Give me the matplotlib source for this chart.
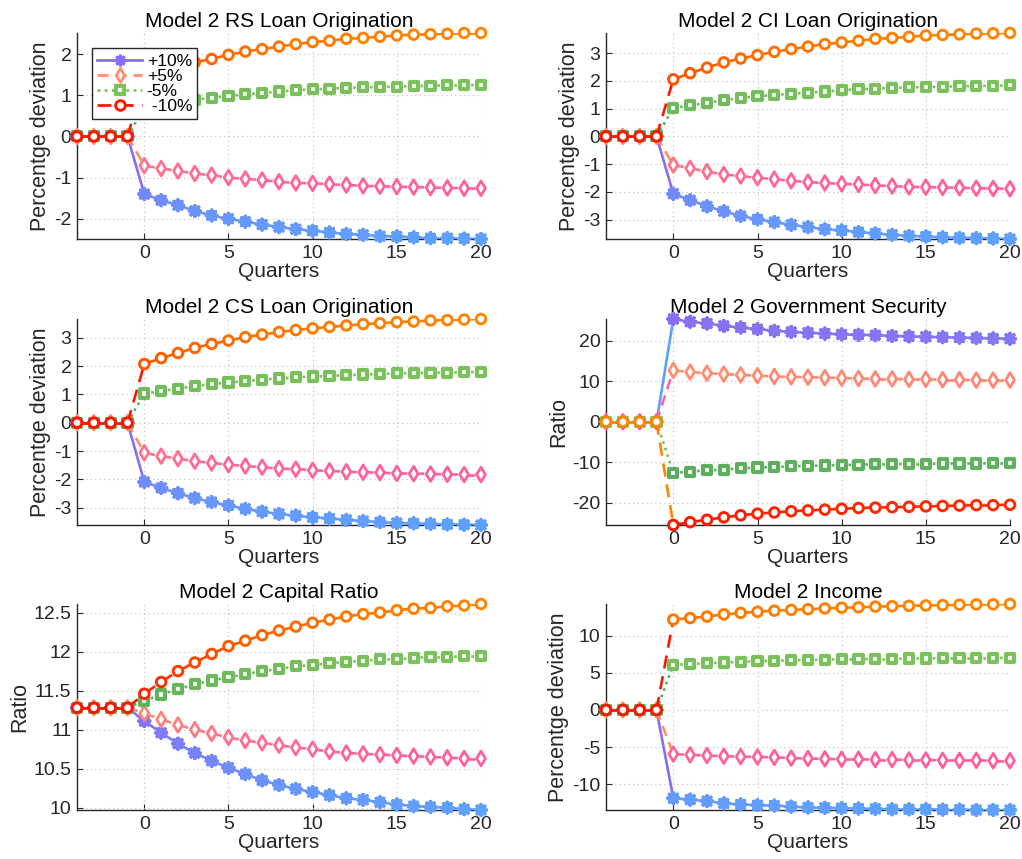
import numpy as np
import matplotlib
matplotlib.use('Agg')
import matplotlib.pyplot as plt
from matplotlib.collections import LineCollection
from matplotlib.colors import LinearSegmentedColormap, Normalize
from matplotlib.lines import Line2D
from matplotlib.ticker import MultipleLocator, FuncFormatter

plt.rcParams['font.family'] = ['Liberation Sans', 'DejaVu Sans']
plt.rcParams['axes.unicode_minus'] = False

quarters = list(range(-4, 21))
series_labels = ['+10%', '+5%', '-5%', ' -10%']

# ---- Model 2 RS Loan Origination
rs_p10 = [0, 0, 0, 0, -1.40, -1.55, -1.67, -1.81, -1.92, -2.00, -2.07, -2.14, -2.20, -2.25, -2.29, -2.33, -2.37, -2.39, -2.42, -2.43, -2.45, -2.47, -2.47, -2.48, -2.49]
rs_p5 = [0, 0, 0, 0, -0.71, -0.78, -0.84, -0.90, -0.94, -1.00, -1.03, -1.06, -1.10, -1.13, -1.14, -1.16, -1.18, -1.20, -1.21, -1.22, -1.23, -1.24, -1.25, -1.26, -1.26]
rs_m5 = [0, 0, 0, 0, 0.70, 0.77, 0.83, 0.89, 0.94, 0.98, 1.02, 1.05, 1.09, 1.12, 1.14, 1.16, 1.18, 1.19, 1.20, 1.21, 1.22, 1.23, 1.24, 1.24, 1.25]
rs_m10 = [0, 0, 0, 0, 1.41, 1.55, 1.68, 1.80, 1.88, 1.98, 2.06, 2.12, 2.18, 2.24, 2.29, 2.32, 2.37, 2.39, 2.42, 2.45, 2.47, 2.48, 2.49, 2.51, 2.51]

# ---- Model 2 CI Loan Origination
ci_p10 = [0, 0, 0, 0, -2.07, -2.30, -2.52, -2.70, -2.87, -2.99, -3.09, -3.19, -3.27, -3.35, -3.39, -3.45, -3.50, -3.55, -3.59, -3.61, -3.64, -3.66, -3.67, -3.68, -3.70]
ci_p5 = [0, 0, 0, 0, -1.03, -1.15, -1.27, -1.37, -1.43, -1.49, -1.54, -1.60, -1.65, -1.68, -1.71, -1.73, -1.77, -1.79, -1.82, -1.83, -1.84, -1.85, -1.87, -1.88, -1.89]
ci_m5 = [0, 0, 0, 0, 1.02, 1.12, 1.21, 1.31, 1.38, 1.45, 1.49, 1.54, 1.58, 1.62, 1.66, 1.70, 1.72, 1.75, 1.77, 1.78, 1.79, 1.81, 1.82, 1.83, 1.84]
ci_m10 = [0, 0, 0, 0, 2.06, 2.28, 2.48, 2.67, 2.81, 2.93, 3.05, 3.15, 3.24, 3.33, 3.39, 3.45, 3.52, 3.55, 3.59, 3.64, 3.66, 3.68, 3.71, 3.72, 3.73]

# ---- Model 2 CS Loan Origination
cs_p10 = [0, 0, 0, 0, -2.09, -2.30, -2.49, -2.66, -2.80, -2.92, -3.04, -3.14, -3.22, -3.28, -3.34, -3.38, -3.43, -3.47, -3.51, -3.54, -3.55, -3.57, -3.59, -3.60, -3.61]
cs_p5 = [0, 0, 0, 0, -1.06, -1.18, -1.27, -1.36, -1.42, -1.48, -1.53, -1.57, -1.62, -1.64, -1.68, -1.70, -1.73, -1.75, -1.76, -1.79, -1.80, -1.81, -1.82, -1.83, -1.83]
cs_m5 = [0, 0, 0, 0, 1.03, 1.12, 1.20, 1.30, 1.36, 1.42, 1.47, 1.52, 1.56, 1.60, 1.63, 1.65, 1.68, 1.70, 1.72, 1.74, 1.75, 1.76, 1.77, 1.78, 1.79]
cs_m10 = [0, 0, 0, 0, 2.07, 2.28, 2.46, 2.64, 2.78, 2.90, 3.02, 3.11, 3.20, 3.27, 3.33, 3.38, 3.43, 3.48, 3.51, 3.55, 3.57, 3.61, 3.62, 3.64, 3.66]

# ---- Model 2 Government Security
gs_p10 = [0, 0, 0, 0, 25.4, 24.7, 24.3, 23.7, 23.3, 22.9, 22.5, 22.2, 22.0, 21.8, 21.6, 21.5, 21.4, 21.2, 21.1, 21.0, 20.9, 20.8, 20.7, 20.6, 20.5]
gs_p5 = [0, 0, 0, 0, 12.7, 12.3, 12.0, 11.8, 11.6, 11.4, 11.2, 11.1, 11.0, 10.9, 10.8, 10.7, 10.6, 10.6, 10.5, 10.5, 10.4, 10.4, 10.3, 10.3, 10.3]
gs_m5 = [0, 0, 0, 0, -12.6, -12.3, -12.0, -11.8, -11.5, -11.3, -11.2, -11.0, -10.9, -10.8, -10.7, -10.6, -10.5, -10.5, -10.4, -10.4, -10.3, -10.3, -10.3, -10.2, -10.2]
gs_m10 = [0, 0, 0, 0, -25.5, -24.8, -24.2, -23.6, -23.1, -22.7, -22.4, -22.1, -21.9, -21.7, -21.5, -21.3, -21.2, -21.1, -21.0, -20.9, -20.8, -20.7, -20.6, -20.6, -20.5]

# ---- Model 2 Capital Ratio
cr_p10 = [11.28, 11.28, 11.28, 11.28, 11.11, 10.96, 10.82, 10.70, 10.60, 10.51, 10.43, 10.35, 10.29, 10.24, 10.20, 10.16, 10.12, 10.10, 10.07, 10.04, 10.02, 10.01, 10.00, 9.98, 9.97]
cr_p5 = [11.28, 11.28, 11.28, 11.28, 11.21, 11.13, 11.06, 11.00, 10.95, 10.90, 10.86, 10.83, 10.80, 10.77, 10.75, 10.72, 10.70, 10.69, 10.68, 10.67, 10.66, 10.65, 10.64, 10.63, 10.63]
cr_m5 = [11.28, 11.28, 11.28, 11.28, 11.37, 11.45, 11.52, 11.58, 11.63, 11.67, 11.71, 11.75, 11.78, 11.81, 11.83, 11.85, 11.87, 11.88, 11.90, 11.90, 11.92, 11.93, 11.93, 11.94, 11.94]
cr_m10 = [11.28, 11.28, 11.28, 11.28, 11.46, 11.61, 11.75, 11.86, 11.97, 12.07, 12.14, 12.21, 12.27, 12.32, 12.37, 12.41, 12.45, 12.48, 12.50, 12.53, 12.55, 12.56, 12.58, 12.59, 12.61]

# ---- Model 2 Income
in_p10 = [0, 0, 0, 0, -11.9, -12.1, -12.3, -12.6, -12.75, -12.85, -12.9, -13.05, -13.15, -13.2, -13.25, -13.3, -13.35, -13.4, -13.4, -13.4, -13.45, -13.45, -13.5, -13.5, -13.5]
in_p5 = [0, 0, 0, 0, -5.95, -6.05, -6.15, -6.25, -6.3, -6.35, -6.4, -6.5, -6.55, -6.6, -6.65, -6.65, -6.7, -6.7, -6.75, -6.75, -6.8, -6.8, -6.8, -6.85, -6.85]
in_m5 = [0, 0, 0, 0, 6.1, 6.2, 6.3, 6.4, 6.5, 6.6, 6.65, 6.7, 6.75, 6.8, 6.85, 6.85, 6.9, 6.9, 6.95, 6.95, 7.0, 7.0, 7.0, 7.0, 7.05]
in_m10 = [0, 0, 0, 0, 12.2, 12.4, 12.6, 12.9, 13.1, 13.25, 13.4, 13.5, 13.6, 13.7, 13.8, 13.85, 13.95, 14.0, 14.05, 14.1, 14.15, 14.2, 14.25, 14.25, 14.3]

titles = ['Model 2 RS Loan Origination', 'Model 2 CI Loan Origination',
          'Model 2 CS Loan Origination', 'Model 2 Government Security',
          'Model 2 Capital Ratio', 'Model 2 Income']
ylabels = ['Percentge deviation', 'Percentge deviation', 'Percentge deviation',
           'Ratio', 'Ratio', 'Percentge deviation']
panel_data = [
    [rs_p10, rs_p5, rs_m5, rs_m10],
    [ci_p10, ci_p5, ci_m5, ci_m10],
    [cs_p10, cs_p5, cs_m5, cs_m10],
    [gs_p10, gs_p5, gs_m5, gs_m10],
    [cr_p10, cr_p5, cr_m5, cr_m10],
    [in_p10, in_p5, in_m5, in_m10],
]
ytick_steps = [1, 1, 1, 10, 0.5, 5]

# style per series: (low colour, high colour, linestyle, marker, marker area, edge width)
STAR = (8, 2, 0)
styles = [
    ('#5FA0FF', '#8A6EF2', '-', STAR, 58, 2.6),
    ('#FF5FA0', '#FF8F6C', (0, (4, 2.5)), 'd', 56, 2.0),
    ('#5BAE5E', '#7CC25C', (0, (1, 1.6)), 's', 34, 3.0),
    ('#FF1500', '#FF8400', (0, (5, 3)), 'o', 48, 2.1),
]
cmaps = [LinearSegmentedColormap.from_list('c%d' % i, [s[0], s[1]]) for i, s in enumerate(styles)]

fig = plt.figure(figsize=(10.22, 8.59), dpi=100)
W, H = 1022, 859
col_left = [77, 606]
row_top = [33, 319, 604]
aw, ah = 404, 206

x = np.array(quarters, dtype=float)
for k in range(6):
    r, c = divmod(k, 2)
    ax = fig.add_axes([col_left[c] / W, 1 - (row_top[r] + ah) / H, aw / W, ah / H])
    allv = []
    for j, ys in enumerate(panel_data[k]):
        y = np.array(ys, dtype=float)
        allv.extend(ys)
        lo, hi_c, ls, mk, ms, mew = styles[j]
        norm = Normalize(vmin=y.min(), vmax=y.max())
        cmap = cmaps[j]
        segs = np.stack([np.column_stack([x[:-1], y[:-1]]), np.column_stack([x[1:], y[1:]])], axis=1)
        lc = LineCollection(segs, colors=cmap(norm(y[:-1])), linewidths=1.9,
                            linestyles=ls, zorder=3 + j, capstyle='butt')
        ax.add_collection(lc)
        cols = cmap(norm(y))
        if mk == STAR:
            ax.scatter(x, y, s=ms, marker=mk, c=cols, linewidths=mew, zorder=3 + j + 0.5, clip_on=False)
        else:
            ax.scatter(x, y, s=ms, marker=mk, facecolors='white', edgecolors=cols,
                       linewidths=mew, zorder=3 + j + 0.5, clip_on=False)
    ax.set_xlim(-4, 20)
    ax.set_ylim(min(allv), max(allv))
    ax.xaxis.set_major_locator(MultipleLocator(5))
    ax.yaxis.set_major_locator(MultipleLocator(ytick_steps[k]))
    ax.yaxis.set_major_formatter(FuncFormatter(lambda v, p: '%g' % round(v, 4)))
    ax.grid(True, linestyle=(0, (1, 3)), color='#bdbdbd', linewidth=0.8)
    ax.set_axisbelow(True)
    for s in ['top', 'right']:
        ax.spines[s].set_visible(False)
    for s in ['left', 'bottom']:
        ax.spines[s].set_color('#262626')
        ax.spines[s].set_linewidth(1.0)
    ax.tick_params(direction='in', length=4, labelsize=14, colors='#262626', pad=4)
    ax.set_title(titles[k], fontsize=15, pad=4)
    ax.set_xlabel('Quarters', fontsize=15, labelpad=0, color='#262626')
    ax.set_ylabel(ylabels[k], fontsize=15.5, labelpad=2, color='#262626')

    if k == 0:
        handles = []
        for j in range(4):
            lo, hi_c, ls, mk, ms, mew = styles[j]
            col = hi_c if j in (0, 1, 2) else lo
            if mk == STAR:
                h = Line2D([], [], color=col, linestyle=ls, linewidth=2, marker=mk,
                           markersize=np.sqrt(ms) * 1.1, markeredgewidth=2.0, markeredgecolor=col,
                           markerfacecolor=col)
            else:
                h = Line2D([], [], color=col, linestyle=ls, linewidth=2, marker=mk,
                           markersize=np.sqrt(ms), markeredgewidth=mew, markeredgecolor=col,
                           markerfacecolor='white')
            handles.append(h)
        leg = ax.legend(handles, series_labels, loc='upper left', bbox_to_anchor=(0.037, 0.925),
                        borderaxespad=0, fontsize=12.5, handlelength=2.6, handletextpad=0.25,
                        labelspacing=0.0, borderpad=0.3, fancybox=False, framealpha=1,
                        edgecolor='#262626')
        leg.get_frame().set_linewidth(1.0)
        leg.set_zorder(20)

fig.savefig('out.png', dpi=100)
